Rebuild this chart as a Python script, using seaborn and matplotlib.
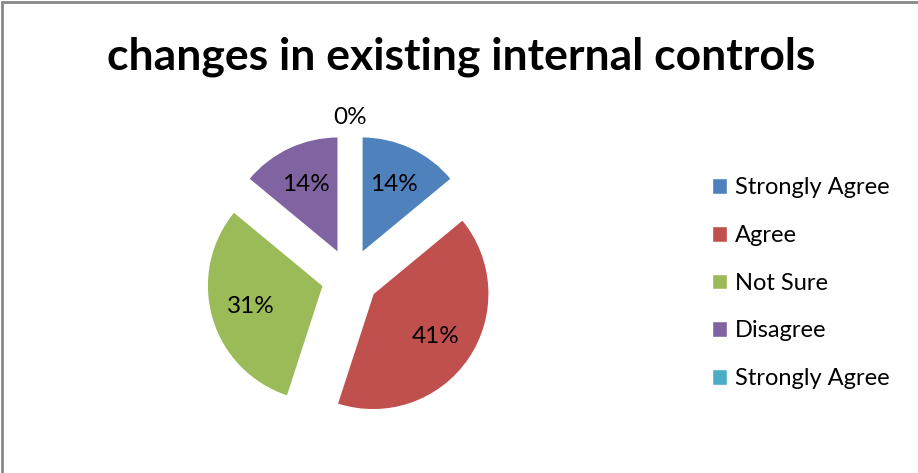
import numpy as np
import seaborn as sns
import matplotlib.pyplot as plt
from matplotlib.lines import Line2D

# data
categories = ['Strongly Agree', 'Agree', 'Not Sure', 'Disagree', 'Strongly Agree']
shares = [14, 41, 31, 14, 0]
colors = ['#4F81BD', '#C0504D', '#9BBB59', '#8064A2', '#4BACC6']
title = 'changes in existing internal controls'

sns.set_style('white')
plt.rcParams['font.family'] = ['Lato', 'DejaVu Sans']
plt.rcParams['text.color'] = 'black'

fig = plt.figure(figsize=(9.18, 4.73), dpi=100)
ax = fig.add_axes([0.2043, 0.0687, 0.354, 0.687])

wedges, texts, autotexts = ax.pie(
    shares, colors=sns.color_palette(colors), startangle=90, counterclock=False,
    explode=[0.24] * len(shares), autopct=lambda p: f'{p:.0f}%', pctdistance=0.65,
    textprops={'fontsize': 17.5, 'color': 'black'}, radius=1,
)
# Excel puts the empty slice's label outside the pie
zero = autotexts[shares.index(0)]
x, y = zero.get_position()
zero.set_position((x * 1.55, y * 1.55))

ax.set_xlim(-1.4, 1.4)
ax.set_ylim(-1.4, 1.4)
ax.set_aspect('equal')
ax.axis('off')

fig.text(0.502, 0.88, title, ha='center', va='center', fontsize=32, fontweight='bold', color='black')

fig.legend(wedges, categories, loc='upper left', bbox_to_anchor=(0.765, 0.645),
           frameon=False, fontsize=17, handlelength=0.65, handleheight=0.65,
           handletextpad=0.35, labelspacing=1.13, borderaxespad=0, labelcolor='black')

# chart-area frame: only top and left edges are visible
fig.add_artist(Line2D([0.0025, 0.0025], [0, 0.995], transform=fig.transFigure, color='#888888', lw=2))
fig.add_artist(Line2D([0.0025, 1], [0.995, 0.995], transform=fig.transFigure, color='#888888', lw=2))

fig.savefig('out.png', dpi=100)
